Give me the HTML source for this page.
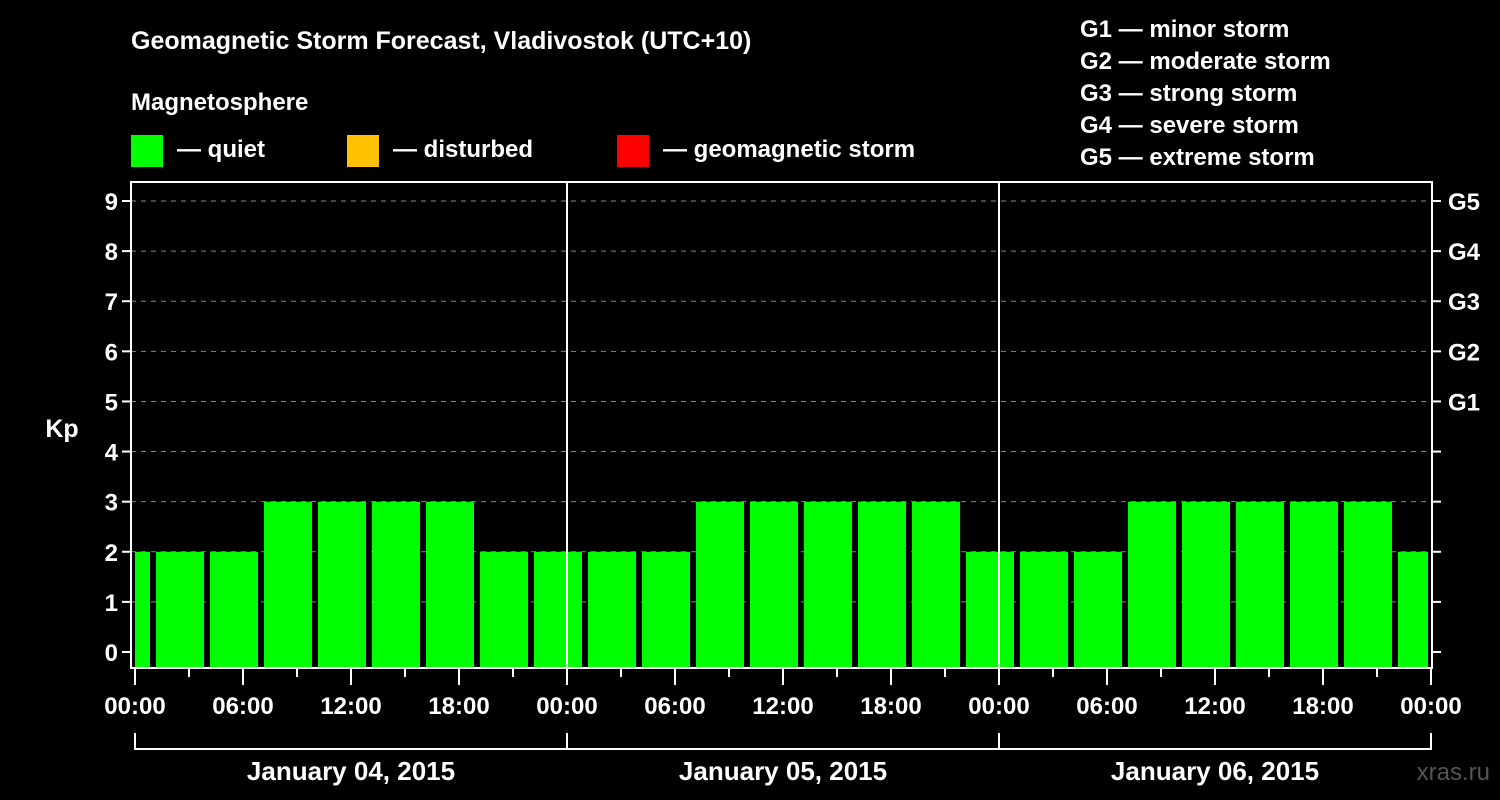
<!DOCTYPE html>
<html><head><meta charset="utf-8"><style>
body{margin:0;background:#000;}
svg{display:block;font-family:"Liberation Sans",Arial,sans-serif;font-weight:bold;}
</style></head><body>
<svg width="1500" height="800" viewBox="0 0 1500 800">
<rect x="0" y="0" width="1500" height="800" fill="#000"/>
<text x="131" y="49" font-size="25" fill="#fff">Geomagnetic Storm Forecast, Vladivostok (UTC+10)</text>
<text x="131" y="110" font-size="24" fill="#fff">Magnetosphere</text>
<g><rect x="131" y="135" width="32" height="32" fill="#00ff00"/><text x="177" y="157" font-size="24" fill="#fff">— quiet</text></g>
<g><rect x="347" y="135" width="32" height="32" fill="#ffc000"/><text x="393" y="157" font-size="24" fill="#fff">— disturbed</text></g>
<g><rect x="617" y="135" width="32" height="32" fill="#ff0000"/><text x="663" y="157" font-size="24" fill="#fff">— geomagnetic storm</text></g>
<g font-size="24" fill="#fff">
<text x="1080" y="37">G1 — minor storm</text>
<text x="1080" y="69">G2 — moderate storm</text>
<text x="1080" y="101">G3 — strong storm</text>
<text x="1080" y="133">G4 — severe storm</text>
<text x="1080" y="165">G5 — extreme storm</text>
</g>
<text x="62" y="437" font-size="25" fill="#fff" text-anchor="middle">Kp</text>
<text x="1490" y="780" font-size="24" fill="#555" text-anchor="end" font-weight="normal">xras.ru</text>
<g id="plot"></g>
</svg>
<script>
const kpValues=[2,2,2,3,3,3,3,2,2,2,2,3,3,3,3,3,2,2,2,3,3,3,3,3,2];
const barStartHours=[-2,1,4,7,10,13,16,19,22,25,28,31,34,37,40,43,46,49,52,55,58,61,64,67,70];
const yTicks=[0,1,2,3,4,5,6,7,8,9];
const gLabels=["G1","G2","G3","G4","G5"];
const gLevels=[5,6,7,8,9];
const xLabels=["00:00","06:00","12:00","18:00","00:00","06:00","12:00","18:00","00:00","06:00","12:00","18:00","00:00"];
const dateLabels=["January 04, 2015","January 05, 2015","January 06, 2015"];

const NS="http://www.w3.org/2000/svg";
const g=document.getElementById('plot');
const X0=135,PXH=18,Y0=652,PXU=50.11;
const L=131,R=1432,T=182,B=668;
const xs=h=>X0+h*PXH, ys=v=>Y0-v*PXU;
function mk(t,a,parent){const e=document.createElementNS(NS,t);for(const k in a)e.setAttribute(k,a[k]);(parent||g).appendChild(e);return e;}

yTicks.forEach(v=>{
  if(v>0){const ln=mk('line',{x1:L,x2:R,y1:ys(v),y2:ys(v),stroke:'#888','stroke-width':1,'stroke-dasharray':'5,5'});
  
  }
  const t=mk('line',{x1:L-9,x2:L,y1:ys(v),y2:ys(v),stroke:'#fff','stroke-width':2});
  
  
  const t2=mk('line',{x1:R,x2:R+9,y1:ys(v),y2:ys(v),stroke:'#fff','stroke-width':2});
  
  
  const tx=mk('text',{x:L-13,y:ys(v)+9,'font-size':24,fill:'#fff','text-anchor':'end'});
  tx.textContent=v;
  
  
});
gLevels.forEach((v,i)=>{
  const tx=mk('text',{x:R+16,y:ys(v)+9,'font-size':24,fill:'#fff'});
  tx.textContent=gLabels[i];
  
  
});
kpValues.forEach((v,i)=>{
  let x1=xs(barStartHours[i])+3,x2=xs(barStartHours[i]+3)-3;
  x1=Math.max(x1,X0);x2=Math.min(x2,1428);
  const c=v>=5?'#ff0000':(v>=4?'#ffc000':'#00ff00');
  const r=mk('rect',{x:x1,y:ys(v),width:x2-x1,height:B-1-ys(v),fill:c});
  
  
});
[1,2].forEach(d=>{
  const ln=mk('line',{x1:xs(24*d),x2:xs(24*d),y1:T,y2:B,stroke:'#fff','stroke-width':2});
  
  
});
const fr=mk('rect',{x:L,y:T,width:R-L,height:B-T,fill:'none',stroke:'#fff','stroke-width':2});


for(let h=0;h<=72;h+=3){
  const major=h%6===0;
  const t=mk('line',{x1:xs(h),x2:xs(h),y1:B,y2:B+(major?17:9),stroke:'#fff','stroke-width':2});
  
  
}
xLabels.forEach((s,i)=>{
  const tx=mk('text',{x:xs(i*6),y:714,'font-size':24,fill:'#fff','text-anchor':'middle'});
  tx.textContent=s;
  
  
});
const br=mk('line',{x1:xs(0),x2:xs(72),y1:749,y2:749,stroke:'#fff','stroke-width':2});


for(let d=0;d<=3;d++){
  const v=mk('line',{x1:xs(24*d),x2:xs(24*d),y1:733,y2:750,stroke:'#fff','stroke-width':2});
  
  
}
dateLabels.forEach((s,i)=>{
  const tx=mk('text',{x:xs(24*i+12),y:780,'font-size':26,fill:'#fff','text-anchor':'middle'});
  tx.textContent=s;
  
  
});
</script>
</body></html>
